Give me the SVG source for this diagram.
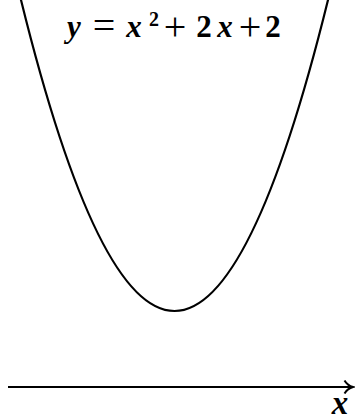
<svg xmlns="http://www.w3.org/2000/svg" width="355" height="420" viewBox="0 0 355 420">
<style>
.curve{fill:none;stroke:#000;stroke-width:2.2}
.axis{fill:none;stroke:#000;stroke-width:2;stroke-linecap:butt}
text{text-anchor:middle}
.var{font-family:"Liberation Serif","DejaVu Serif",serif;font-style:italic;font-weight:bold}
.num{font-family:"Liberation Serif","DejaVu Serif",serif;font-weight:bold}
.op{font-family:"Liberation Serif","DejaVu Serif",serif;font-size:40px}
</style>
<rect width="355" height="420" fill="#fff"/>
<g id="parabola">
<path class="curve" d="M14.5,-26.9 Q174.5,648.9 334.5,-26.9"/>
</g>
<g id="connectors">
<line class="axis" x1="8" y1="387" x2="352" y2="387"/>
<path class="axis" d="M344.5,380.5 Q347.5,385.5 353,387 Q347.5,388.5 344.5,393.5"/>
</g>
<g id="title" font-size="31">
<text class="var" x="74" y="37">y</text>
<text class="op" x="104" y="39">=</text>
<text class="var" x="134" y="37">x</text>
<text class="num" x="154" y="26" font-size="20">2</text>
<text class="op" x="175" y="40">+</text>
<text class="num" x="204" y="37">2</text>
<text class="var" x="225" y="37">x</text>
<text class="op" x="250" y="40">+</text>
<text class="num" x="273" y="37">2</text>
</g>
<g id="xlabel">
<text class="var" x="340" y="414" font-size="33">x</text>
</g>
</svg>
